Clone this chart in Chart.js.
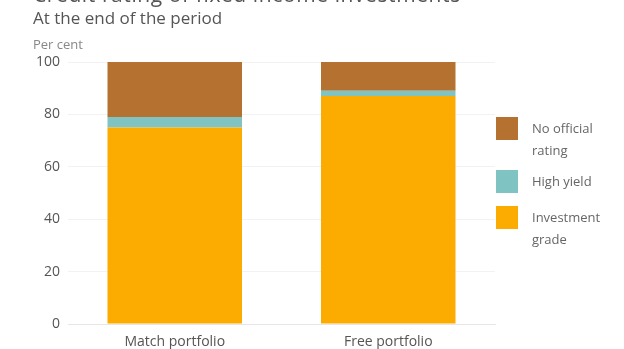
<!DOCTYPE html>
<html>
<head>
<meta charset="utf-8">
<script src="https://cdn.jsdelivr.net/npm/chart.js@4.4.0/dist/chart.umd.min.js"></script>
<style>
  html, body { margin: 0; padding: 0; background: #fff; }
  body { width: 624px; height: 349px; position: relative; overflow: hidden; font-family: "Open Sans", sans-serif; }
  #wrap { position: absolute; left: 0; top: 0; width: 624px; height: 349px; }
  .title { position: absolute; left: 33px; top: -20px; font-size: 21px; color: #555; white-space: nowrap; letter-spacing: 0.6px; }
  .subtitle { position: absolute; left: 33px; top: 6px; font-size: 17px; color: #555; white-space: nowrap; }
  .unit { position: absolute; left: 33px; top: 35px; font-size: 13px; color: #888; white-space: nowrap; }
  #legend { position: absolute; left: 496px; top: 0; font-size: 13px; color: #666; line-height: 22px; }
  .item { position: absolute; left: 0; display: flex; align-items: flex-start; }
  .sw { width: 22px; height: 23px; margin-right: 14px; flex: none; }
  .lbl { width: 80px; white-space: nowrap; margin-top: 0px; }
</style>
</head>
<body>
<div id="wrap"><canvas id="c" width="624" height="349"></canvas></div>
<div class="title">Credit rating of fixed income investments</div>
<div class="subtitle">At the end of the period</div>
<div class="unit">Per cent</div>
<div id="legend"></div>
<script>
const categories = ["Match portfolio", "Free portfolio"];
const investmentGrade = [75, 87];
const highYield = [4, 2];
const noRating = [21, 11];
const yTicks = [0, 20, 40, 60, 80, 100];
const seriesNames = ["No official rating", "High yield", "Investment grade"];
const legendLines = [["No official", "rating"], ["High yield"], ["Investment", "grade"]];
const colors = ["#B5712F", "#7FC3C3", "#FCAC00"];
const legendTops = [117, 170, 206];

const datasets = [
  { label: seriesNames[2], data: investmentGrade, backgroundColor: colors[2] },
  { label: seriesNames[1], data: highYield, backgroundColor: colors[1] },
  { label: seriesNames[0], data: noRating, backgroundColor: colors[0] }
];

new Chart(document.getElementById("c"), {
  type: "bar",
  data: { labels: categories, datasets: datasets },
  options: {
    responsive: false,
    animation: false,
    layout: { padding: { left: 0, right: 129, top: 62, bottom: 0 } },
    plugins: { legend: { display: false }, tooltip: { enabled: false } },
    datasets: { bar: { categoryPercentage: 1, barPercentage: 0.63, borderWidth: 0 } },
    scales: {
      x: {
        stacked: true,
        grid: { display: false },
        border: { display: true, color: "#e6e6e6" },
        ticks: { color: "#555", font: { family: "Open Sans", size: 14 }, padding: 2 },
        afterFit: s => { s.height = 25; }
      },
      y: {
        stacked: true,
        min: 0, max: 100,
        afterBuildTicks: s => { s.ticks = yTicks.map(v => ({ value: v })); },
        grid: { color: "#f2f2f2", drawTicks: false },
        border: { display: false },
        ticks: { color: "#555", font: { family: "Open Sans", size: 14 }, padding: 8 },
        afterFit: s => { s.width = 68; }
      }
    }
  }
});

const lg = document.getElementById("legend");
legendLines.forEach((lines, i) => {
  const it = document.createElement("div");
  it.className = "item";
  it.style.top = legendTops[i] + "px";
  const sw = document.createElement("div");
  sw.className = "sw";
  sw.style.background = colors[i];
  const lb = document.createElement("div");
  lb.className = "lbl";
  lb.innerHTML = lines.join("<br>");
  it.appendChild(sw); it.appendChild(lb);
  lg.appendChild(it);
});
</script>
</body>
</html>
